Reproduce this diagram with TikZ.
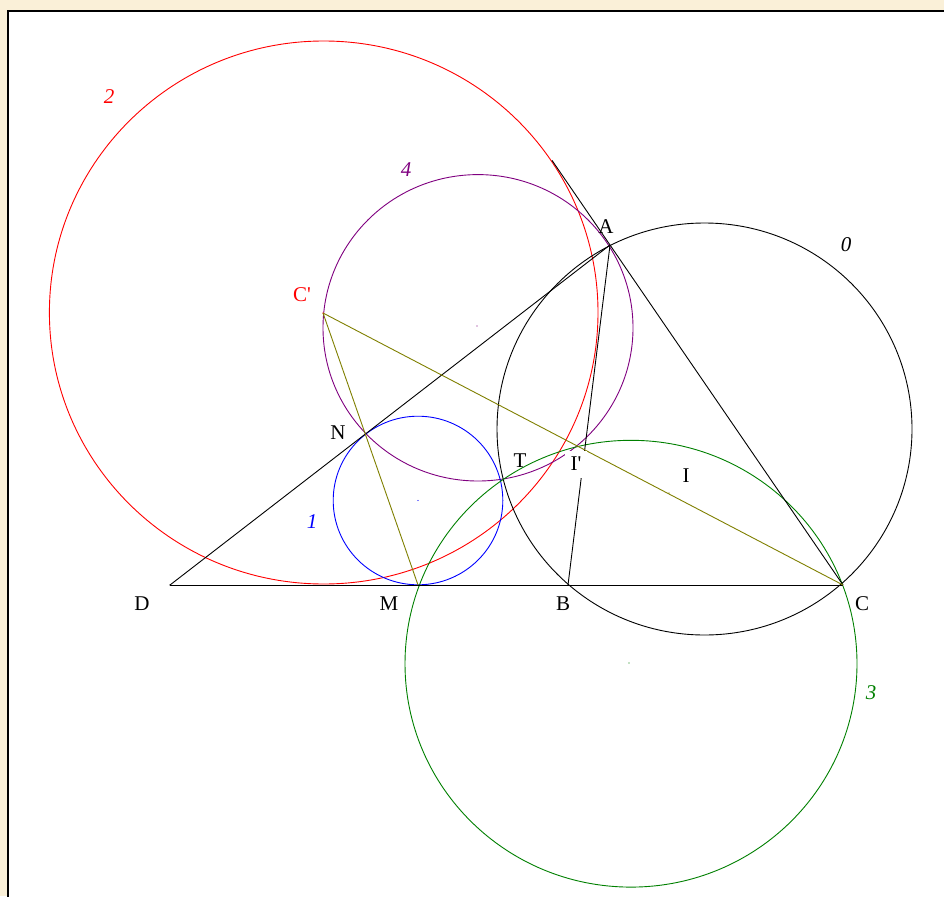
\documentclass[tikz,border=0pt]{standalone}
\usepackage{fontspec}
\usetikzlibrary{calc}
\newfontfamily\geo{Liberation Serif}
\definecolor{bgbeige}{RGB}{250,240,216}
\definecolor{olivel}{RGB}{128,128,0}
\definecolor{purp}{RGB}{128,0,128}
\definecolor{grn}{RGB}{0,128,0}
\definecolor{redc}{RGB}{255,0,0}
\definecolor{bluec}{RGB}{0,0,255}
\begin{document}
\begin{tikzpicture}[x=1pt,y=-1pt,
  geoline/.style={line width=0.9pt},
  lbl/.style={font=\geo\fontsize{21}{24}\selectfont, inner sep=1pt},
  num/.style={font=\geo\itshape\fontsize{21}{24}\selectfont, inner sep=1pt},
  ctr/.style={circle, fill, inner sep=0pt, minimum size=1.2pt}]
\useasboundingbox (0,0) rectangle (944,896);
\fill[bgbeige] (0,0) rectangle (944,896);
\filldraw[fill=white, draw=black, line width=2pt] (8,11) rectangle (960,910);
% points
\coordinate (D) at (170,585);
\coordinate (M) at (418,585);
\coordinate (B) at (568,585);
\coordinate (C) at (843,585);
\coordinate (A) at (610,245);
\coordinate (N) at (366.4,433.3);
\coordinate (Cp) at (323,313);
\coordinate (Ip) at (585.5,450);
\coordinate (I) at (669,493);
\coordinate (T) at (501,479);
\coordinate (Ax) at ($(C)!1.249!(A)$);
\coordinate (O0) at (704.5,429);
\coordinate (O1) at (418,500.5);
\coordinate (O2) at (323.7,312.5);
\coordinate (O3) at (631,663.7);
\coordinate (O4) at (478,327.8);
% circles
\draw[geoline, redc] (O2) ellipse [x radius=274.3, y radius=271.5];
\draw[geoline, purp] (O4) ellipse [x radius=155, y radius=153.2];
\draw[geoline, black] (O0) ellipse [x radius=207.5, y radius=206];
\draw[geoline, bluec] (O1) ellipse [x radius=84.8, y radius=84.3];
\draw[geoline, grn] (O3) ellipse [x radius=226, y radius=223.4];
% lines
\draw[geoline] (D) -- (C);
\draw[geoline] (D) -- (A);
\draw[geoline] (Ax) -- (C);
\draw[geoline] (A) -- (B);
\draw[geoline, olivel] (Cp) -- (C);
\draw[geoline, olivel] (Cp) -- (M);
% centre dots
\node[ctr, redc] (dCp) at (Cp) {};
\node[ctr, bluec] (d1) at (O1) {};
\node[ctr, purp] (d4) at (477,326) {};
\node[ctr, grn] (d3) at (629,663) {};
\node[ctr, olivel] (dI) at (I) {};
\node[ctr] (dD) at (D) {};
% labels
\node[num, redc] (n2) at (109,97) {2};
\node[num, purp] (n4) at (406,170) {4};
\node[num] (n0) at (846,245) {0};
\node[num, bluec] (n1) at (312,522) {1};
\node[num, grn] (n3) at (871,693) {3};
\node[lbl, redc] (lCp) at (302,295) {C'};
\node[lbl] (lA) at (606,227) {A};
\node[lbl] (lN) at (338,433) {N};
\node[lbl] (lT) at (520,461) {T};
\node[lbl, fill=white, minimum width=22pt, minimum height=27pt] (lIp) at (576,464) {I'};
\node[lbl] (lI) at (686,476) {I};
\node[lbl] (lD) at (142,604) {D};
\node[lbl] (lM) at (389,604) {M};
\node[lbl] (lB) at (563,604) {B};
\node[lbl] (lC) at (862,604) {C};
\end{tikzpicture}
\end{document}
